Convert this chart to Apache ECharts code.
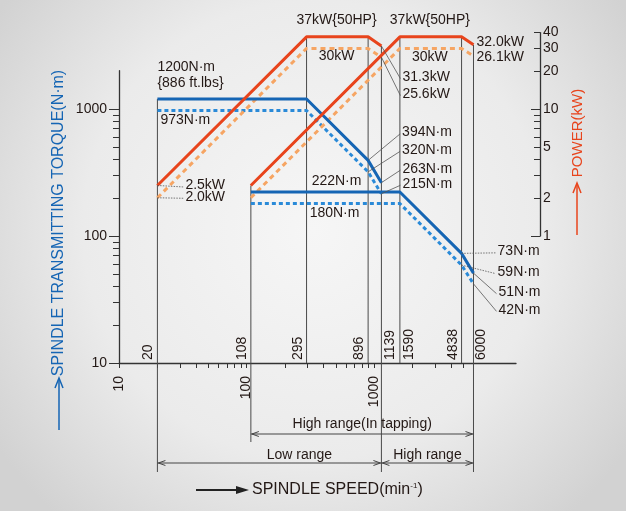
<!DOCTYPE html>
<html><head><meta charset="utf-8">
<script src="https://cdn.jsdelivr.net/npm/echarts@6/dist/echarts.min.js"></script>
<style>html,body{margin:0;padding:0;background:#e8e8e8;} #c{width:626px;height:511px;}</style>
</head><body><div id="c"></div>
<script>
// ---------------- DATA ----------------
const speedLow  = [20, 295, 896, 1139];
const speedHigh = [108, 1590, 4838, 6000];
const torqueLowMax   = [1200, 1200, 394, 263];
const torqueLowCont  = [973, 973, 320, 215];
const torqueHighMax  = [222, 222, 73, 51];
const torqueHighCont = [180, 180, 59, 42];
const powerLowMax    = [2.5, 37, 37, 31.3];
const powerLowCont   = [2.0, 30, 30, 25.6];
const powerHighMax   = [2.5, 37, 37, 32.0];
const powerHighCont  = [2.0, 30, 30, 26.1];
const ratedHP = 50;
const torqueLbs = 886;
const speedMarks = [20, 108, 295, 896, 1139, 1590, 4838, 6000];
const xLabelValues = [10, 100, 1000];
const xTickValues = [10,20,30,40,50,60,70,80,90,100,200,300,400,500,600,700,800,900,1000,2000,3000,4000,5000];
const torqueLabelValues = [10, 100, 1000];
const torqueTickValues = [10,20,30,40,50,60,70,80,90,100,200,300,400,500,600,700,800,900,1000];
const powerLabelValues = [1, 2, 5, 10, 20, 30, 40];
const powerTickValues = [1,2,3,4,5,6,7,8,9,10,20,30,40];
const rangeNames = ['High range(In tapping)', 'Low range', 'High range'];
const rangeFrom = [108, 20, 1139];
const rangeTo = [6000, 1139, 6000];

// ---------------- LAYOUT ----------------
const L = Math.log10;
const X10 = 119, DX = 127.6;      // pixel of speed 10, px per decade
const Y10 = 363, DY = 127;        // pixel of torque 10, px per decade
const X_END = 516, P_AXIS_X = 540;
const xMaxT = Math.pow(10, 1 + (X_END - X10) / DX);
const xMaxP = Math.pow(10, 1 + (P_AXIS_X - X10) / DX);
const tMax = 2000, pMin = 1, pMax = 40;
const tTop = Y10 - L(tMax / 10) * DY;
const pBottom = Y10 - L(pMin / 0.1) * DY;
const pTop = Y10 - L(pMax / 0.1) * DY;

const FONT = '"Liberation Sans", Arial, sans-serif';
const TXT = '#231815';
const RED = '#e8441c', ORANGE = '#f6a563', BLUE = '#1565b4', LBLUE = '#2a8ad8';
const GRAYLINE = '#4a4a4a';

const pairs = (xs, ys) => xs.map((x, i) => [x, ys[i]]);
const fmtN = v => String(Math.round(v));

// vertical guide lines: speed, top value, extension below axis
const vertP = [
  [speedHigh[0], powerHighMax[0]], [speedLow[1], powerLowMax[1]], [speedLow[2], powerLowMax[2]],
  [speedLow[3], powerLowMax[3]], [speedHigh[1], powerHighMax[1]], [speedHigh[2], powerHighMax[2]],
  [speedHigh[3], powerHighMax[3]]
];
const vertPExt = [79, 0, 0, 109, 0, 0, 109];
const vertT = [[speedLow[0], torqueLowMax[0]]];
const vertTExt = [109];

// annotations
const annoT = [
  {p: [speedLow[0], torqueLowMax[0]], text: fmtN(torqueLowMax[0]) + 'N·m', dx: 0, dy: -32},
  {p: [speedLow[0], torqueLowMax[0]], text: '{' + torqueLbs + ' ft.lbs}', dx: 0, dy: -16},
  {p: [speedLow[0], torqueLowCont[0]], text: fmtN(torqueLowCont[0]) + 'N·m', dx: 3, dy: 10},
  {p: [speedLow[2], torqueLowMax[2]], text: fmtN(torqueLowMax[2]) + 'N·m', dx: 34, dy: -28, leader: 'solid'},
  {p: [speedLow[2], torqueLowCont[2]], text: fmtN(torqueLowCont[2]) + 'N·m', dx: 34, dy: -22, leader: 'solid'},
  {p: [speedLow[3], torqueLowMax[3]], text: fmtN(torqueLowMax[3]) + 'N·m', dx: 21, dy: -14, leader: 'solid'},
  {p: [speedLow[3], torqueLowCont[3]], text: fmtN(torqueLowCont[3]) + 'N·m', dx: 21, dy: -10, leader: 'solid'},
  {p: [speedLow[1], torqueHighMax[0]], text: fmtN(torqueHighMax[0]) + 'N·m', dx: 30, dy: -11, align: 'center'},
  {p: [speedLow[1], torqueHighCont[0]], text: fmtN(torqueHighCont[0]) + 'N·m', dx: 28, dy: 10, align: 'center'},
  {p: [speedHigh[2], torqueHighMax[2]], text: fmtN(torqueHighMax[2]) + 'N·m', dx: 36, dy: -2, leader: 'dot'},
  {p: [speedHigh[2], torqueHighCont[2]], text: fmtN(torqueHighCont[2]) + 'N·m', dx: 36, dy: 7, leader: 'dot'},
  {p: [speedHigh[3], torqueHighMax[3]], text: fmtN(torqueHighMax[3]) + 'N·m', dx: 25, dy: 19, leader: 'solid'},
  {p: [speedHigh[3], torqueHighCont[3]], text: fmtN(torqueHighCont[3]) + 'N·m', dx: 25, dy: 26, leader: 'solid'}
];
const annoP = [
  {p: [speedLow[0], powerLowMax[0]], text: powerLowMax[0].toFixed(1) + 'kW', dx: 28, dy: 0, leader: 'dot'},
  {p: [speedLow[0], powerLowCont[0]], text: powerLowCont[0].toFixed(1) + 'kW', dx: 28, dy: -1, leader: 'dot'},
  {p: [speedLow[3], powerLowMax[3]], text: powerLowMax[3].toFixed(1) + 'kW', dx: 21, dy: 31, leader: 'solid'},
  {p: [speedLow[3], powerLowCont[3]], text: powerLowCont[3].toFixed(1) + 'kW', dx: 21, dy: 37, leader: 'solid'},
  {p: [speedHigh[3], powerHighMax[3]], text: powerHighMax[3].toFixed(1) + 'kW', dx: 3, dy: -3},
  {p: [speedHigh[3], powerHighCont[3]], text: powerHighCont[3].toFixed(1) + 'kW', dx: 3, dy: 1},
  {p: [speedLow[1], powerLowMax[1]], text: powerLowMax[1] + 'kW{' + ratedHP + 'HP}', dx: 30, dy: -17, align: 'center'},
  {p: [speedHigh[1], powerHighMax[1]], text: powerHighMax[1] + 'kW{' + ratedHP + 'HP}', dx: 30, dy: -17, align: 'center'},
  {p: [speedLow[1], powerLowCont[1]], text: powerLowCont[1] + 'kW', dx: 30, dy: 8, align: 'center'},
  {p: [speedHigh[1], powerHighCont[1]], text: powerHighCont[1] + 'kW', dx: 30, dy: 9, align: 'center'}
];
const speedMarkDx = {20: -9, 108: -8.5, 295: -8.5, 896: -8.5, 1139: 8.5, 1590: 9, 4838: -8.5, 6000: 8};
const bracketLayout = [
  {lineDy: 71, textDy: 61, textDx: 0},
  {lineDy: 100, textDy: 92, textDx: 30},
  {lineDy: 100, textDy: 92, textDx: 0}
];

function textEl(x, y, text, align, extra) {
  return Object.assign({type: 'text', x: x, y: y,
    style: {text: text, align: align || 'left', verticalAlign: 'middle', fill: TXT, font: '14px ' + FONT}}, extra || {});
}

function renderVert(ext) {
  return function (params, api) {
    const p = api.coord([api.value(0), api.value(1)]);
    const cs = params.coordSys;
    const bottom = cs.y + cs.height + ext[params.dataIndex];
    return {type: 'line', shape: {x1: p[0], y1: p[1], x2: p[0], y2: bottom},
      style: {stroke: GRAYLINE, lineWidth: 1}};
  };
}
function renderAnno(list) {
  return function (params, api) {
    const a = list[params.dataIndex];
    const p = api.coord([api.value(0), api.value(1)]);
    const ch = [];
    if (a.leader) {
      ch.push({type: 'line', shape: {x1: p[0], y1: p[1], x2: p[0] + a.dx - 2, y2: p[1] + a.dy + 1.5},
        style: {stroke: '#555', lineWidth: 0.8, lineDash: a.leader === 'dot' ? [1.5, 1.2] : null}});
    }
    ch.push(textEl(p[0] + a.dx, p[1] + a.dy, a.text, a.align));
    return {type: 'group', children: ch};
  };
}
function renderSpeedMark(params, api) {
  const v = api.value(0);
  const p = api.coord([v, api.value(1)]);
  return textEl(p[0] + speedMarkDx[v], p[1] - 3, String(v), 'left', {rotation: Math.PI / 2});
}
function renderBracket(params, api) {
  const i = params.dataIndex, lay = bracketLayout[i];
  const x1 = api.coord([api.value(0), 10])[0];
  const x2 = api.coord([api.value(1), 10])[0];
  const cs = params.coordSys, base = cs.y + cs.height;
  const y = base + lay.lineDy;
  const st = {stroke: '#444', lineWidth: 1};
  return {type: 'group', children: [
    {type: 'line', shape: {x1: x1, y1: y, x2: x2, y2: y}, style: st},
    {type: 'polyline', shape: {points: [[x1 + 8, y - 2.5], [x1 + 1, y], [x1 + 8, y + 2.5]]}, style: {stroke: '#444', lineWidth: 1, fill: null}},
    {type: 'polyline', shape: {points: [[x2 - 8, y - 2.5], [x2 - 1, y], [x2 - 8, y + 2.5]]}, style: {stroke: '#444', lineWidth: 1, fill: null}},
    textEl((x1 + x2) / 2 + lay.textDx, base + lay.textDy, rangeNames[i], 'center')
  ]};
}

const axisLineStyle = {color: '#333', width: 1.3};
const lbl = {color: TXT, fontSize: 14, fontFamily: FONT};
const hidden = {show: false};

const chart = echarts.init(document.getElementById('c'), null, {renderer: 'canvas'});
chart.setOption({
  animation: false,
  backgroundColor: {type: 'radial', x: 0.5, y: 0.45, r: 0.75,
    colorStops: [{offset: 0, color: '#f6f6f6'}, {offset: 0.6, color: '#ebebeb'}, {offset: 1, color: '#d2d2d2'}]},
  grid: [
    {left: X10, top: tTop, width: X_END - X10, height: Y10 - tTop, containLabel: false, outerBoundsMode: 'none'},
    {left: X10, top: pTop, width: P_AXIS_X - X10, height: pBottom - pTop, containLabel: false, outerBoundsMode: 'none'},
    {left: X10, top: pTop, width: P_AXIS_X - X10, height: Y10 - pTop, containLabel: false, outerBoundsMode: 'none'}
  ],
  xAxis: [
    {gridIndex: 0, type: 'log', min: 10, max: xMaxT, position: 'bottom',
      axisLine: {show: true, lineStyle: axisLineStyle},
      axisTick: {show: true, inside: false, length: 5, customValues: xTickValues, lineStyle: {color: '#333', width: 1}},
      axisLabel: {show: true, rotate: 90, margin: 13, customValues: xLabelValues, formatter: fmtN, ...lbl},
      splitLine: hidden, minorTick: hidden},
    {gridIndex: 1, type: 'log', min: 10, max: xMaxP, show: false},
    {gridIndex: 2, type: 'log', min: 10, max: xMaxP, show: false}
  ],
  yAxis: [
    {gridIndex: 0, type: 'log', min: 10, max: tMax, position: 'left',
      axisLine: {show: true, lineStyle: axisLineStyle},
      axisTick: {show: true, inside: false, length: 6, customValues: torqueTickValues, lineStyle: {color: '#333', width: 1}},
      axisLabel: {show: true, margin: 12, customValues: torqueLabelValues, formatter: fmtN, ...lbl},
      splitLine: hidden},
    {gridIndex: 0, type: 'log', min: 10, max: tMax, position: 'left',
      axisLine: hidden, axisLabel: hidden, splitLine: hidden,
      axisTick: {show: true, inside: false, length: 10, customValues: torqueLabelValues, lineStyle: {color: '#333', width: 1}}},
    {gridIndex: 1, type: 'log', min: pMin, max: pMax, position: 'right',
      axisLine: {show: true, lineStyle: axisLineStyle},
      axisTick: {show: true, inside: true, length: 6, customValues: powerTickValues, lineStyle: {color: '#333', width: 1}},
      axisLabel: {show: true, margin: 3, customValues: powerLabelValues, formatter: fmtN, ...lbl},
      splitLine: hidden},
    {gridIndex: 1, type: 'log', min: pMin, max: pMax, position: 'right',
      axisLine: hidden, axisLabel: hidden, splitLine: hidden,
      axisTick: {show: true, inside: true, length: 9, customValues: [1, 10], lineStyle: {color: '#333', width: 1}}},
    {gridIndex: 2, type: 'log', min: 10, max: 10 * Math.pow(10, (Y10 - pTop) / DY), show: false},
    {gridIndex: 2, type: 'log', min: 0.1, max: pMax, show: false}
  ],
  series: [
    {type: 'custom', name: 'vertT', xAxisIndex: 2, yAxisIndex: 4, clip: false, z: 1,
      renderItem: renderVert(vertTExt), data: vertT},
    {type: 'custom', name: 'vertP', xAxisIndex: 2, yAxisIndex: 5, clip: false, z: 1,
      renderItem: renderVert(vertPExt), data: vertP},
    {type: 'custom', name: 'brackets', xAxisIndex: 2, yAxisIndex: 4, clip: false, z: 1,
      renderItem: renderBracket, data: pairs(rangeFrom, rangeTo)},
    {type: 'line', name: 'torqueLowCont', xAxisIndex: 2, yAxisIndex: 4, symbol: 'none', z: 3,
      lineStyle: {color: LBLUE, width: 3, type: [4, 3]}, data: pairs(speedLow, torqueLowCont)},
    {type: 'line', name: 'torqueHighCont', xAxisIndex: 2, yAxisIndex: 4, symbol: 'none', z: 3,
      lineStyle: {color: LBLUE, width: 3, type: [4, 3]}, data: pairs(speedHigh, torqueHighCont)},
    {type: 'line', name: 'torqueLowMax', xAxisIndex: 2, yAxisIndex: 4, symbol: 'none', z: 4,
      lineStyle: {color: BLUE, width: 3}, data: pairs(speedLow, torqueLowMax)},
    {type: 'line', name: 'torqueHighMax', xAxisIndex: 2, yAxisIndex: 4, symbol: 'none', z: 4,
      lineStyle: {color: BLUE, width: 3}, data: pairs(speedHigh, torqueHighMax)},
    {type: 'line', name: 'powerLowCont', xAxisIndex: 2, yAxisIndex: 5, symbol: 'none', z: 3,
      lineStyle: {color: ORANGE, width: 3, type: [5, 4]}, data: pairs(speedLow, powerLowCont)},
    {type: 'line', name: 'powerHighCont', xAxisIndex: 2, yAxisIndex: 5, symbol: 'none', z: 3,
      lineStyle: {color: ORANGE, width: 3, type: [5, 4]}, data: pairs(speedHigh, powerHighCont)},
    {type: 'line', name: 'powerLowMax', xAxisIndex: 2, yAxisIndex: 5, symbol: 'none', z: 4,
      lineStyle: {color: RED, width: 3}, data: pairs(speedLow, powerLowMax)},
    {type: 'line', name: 'powerHighMax', xAxisIndex: 2, yAxisIndex: 5, symbol: 'none', z: 4,
      lineStyle: {color: RED, width: 3}, data: pairs(speedHigh, powerHighMax)},
    {type: 'custom', name: 'annoT', xAxisIndex: 2, yAxisIndex: 4, clip: false, z: 5,
      renderItem: renderAnno(annoT), data: annoT.map(a => a.p)},
    {type: 'custom', name: 'annoP', xAxisIndex: 2, yAxisIndex: 5, clip: false, z: 5,
      renderItem: renderAnno(annoP), data: annoP.map(a => a.p)},
    {type: 'custom', name: 'speedMarks', xAxisIndex: 2, yAxisIndex: 4, clip: false, z: 5,
      renderItem: renderSpeedMark, data: speedMarks.map(s => [s, 10])}
  ],
  graphic: [
    {type: 'text', x: 59, y: 223, rotation: Math.PI / 2,
      style: {text: 'SPINDLE TRANSMITTING TORQUE(N·m)', align: 'center', verticalAlign: 'middle', fill: BLUE, font: '16px ' + FONT}},
    {type: 'line', shape: {x1: 59, y1: 430, x2: 59, y2: 379}, style: {stroke: BLUE, lineWidth: 1.5}},
    {type: 'polyline', shape: {points: [[55, 388], [59, 378], [63, 388]]}, style: {stroke: BLUE, lineWidth: 1.5, fill: null}},
    {type: 'text', x: 578, y: 133, rotation: Math.PI / 2,
      style: {text: 'POWER(kW)', align: 'center', verticalAlign: 'middle', fill: RED, font: '15px ' + FONT}},
    {type: 'line', shape: {x1: 577, y1: 235, x2: 577, y2: 184}, style: {stroke: RED, lineWidth: 1.5}},
    {type: 'polyline', shape: {points: [[573, 193], [577, 183], [581, 193]]}, style: {stroke: RED, lineWidth: 1.5, fill: null}},
    {type: 'line', shape: {x1: 196, y1: 490, x2: 240, y2: 490}, style: {stroke: '#222', lineWidth: 2}},
    {type: 'polygon', shape: {points: [[236, 486], [249, 490], [236, 494]]}, style: {fill: '#222'}},
    {type: 'text', x: 252, y: 490,
      style: {text: '{a|SPINDLE SPEED(min}{s|-1}{a|)}', align: 'left', verticalAlign: 'middle',
        rich: {a: {fontSize: 16, fontFamily: FONT, fill: TXT, color: TXT},
               s: {fontSize: 8, fontFamily: FONT, fill: TXT, color: TXT, verticalAlign: 'top', padding: [0, 0, 6, 0]}}}}
  ]
});
</script>
</body></html>
